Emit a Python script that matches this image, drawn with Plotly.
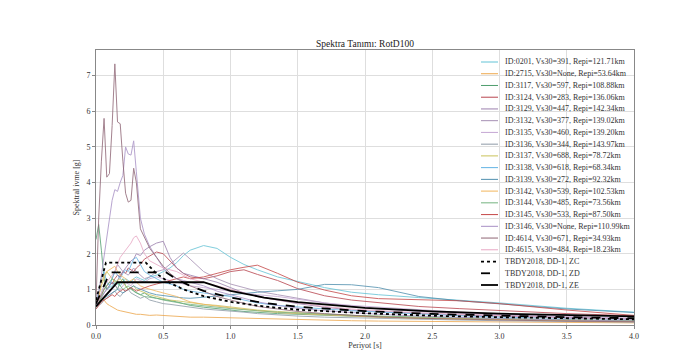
import plotly.graph_objects as go

# ---------------- data ----------------
periods = [0.0, 0.02, 0.04, 0.06, 0.08, 0.1, 0.12, 0.14, 0.16, 0.18,
           0.2, 0.22, 0.24, 0.26, 0.28, 0.3, 0.33, 0.36, 0.4, 0.45,
           0.5, 0.55, 0.6, 0.65, 0.7, 0.8, 0.9, 1.0, 1.1, 1.2,
           1.35, 1.5, 1.7, 1.9, 2.1, 2.4, 2.7, 3.0, 3.5, 4.0]

record_labels = [
    "ID:0201, Vs30=391, Repi=121.71km",
    "ID:2715, Vs30=None, Repi=53.64km",
    "ID:3117, Vs30=597, Repi=108.88km",
    "ID:3124, Vs30=283, Repi=136.06km",
    "ID:3129, Vs30=447, Repi=142.34km",
    "ID:3132, Vs30=377, Repi=139.02km",
    "ID:3135, Vs30=460, Repi=139.20km",
    "ID:3136, Vs30=344, Repi=143.97km",
    "ID:3137, Vs30=688, Repi=78.72km",
    "ID:3138, Vs30=618, Repi=68.34km",
    "ID:3139, Vs30=272, Repi=92.32km",
    "ID:3142, Vs30=539, Repi=102.53km",
    "ID:3144, Vs30=485, Repi=73.56km",
    "ID:3145, Vs30=533, Repi=87.50km",
    "ID:3146, Vs30=None, Repi=110.99km",
    "ID:4614, Vs30=671, Repi=34.93km",
    "ID:4615, Vs30=484, Repi=18.23km",
]

sa_0201 = [0.55, 0.7, 0.9, 1.1, 1.0, 1.05, 1.1, 1.2, 1.15, 1.1, 1.2, 1.3, 1.25, 1.2, 1.3, 1.35, 1.3, 1.25, 1.35, 1.4,
           1.5, 1.6, 1.75, 1.95, 2.1, 2.23, 2.15, 1.9, 1.7, 1.55, 1.35, 1.22, 1.05, 0.92, 0.85, 0.77, 0.7, 0.62, 0.47, 0.36]
sa_2715 = [0.5, 0.65, 0.78, 0.7, 0.6, 0.55, 0.5, 0.45, 0.42, 0.4, 0.38, 0.36, 0.35, 0.33, 0.32, 0.3, 0.3, 0.28, 0.27, 0.28,
           0.27, 0.25, 0.24, 0.22, 0.22, 0.22, 0.21, 0.2, 0.19, 0.18, 0.16, 0.15, 0.13, 0.12, 0.11, 0.1, 0.09, 0.08, 0.07, 0.06]
sa_3117 = [2.4, 2.82, 2.1, 1.3, 1.0, 1.1, 1.2, 1.15, 1.0, 1.2, 1.3, 1.1, 1.0, 1.05, 0.95, 0.9, 0.85, 0.9, 0.8, 0.75,
           0.72, 0.7, 0.65, 0.6, 0.55, 0.5, 0.45, 0.42, 0.38, 0.35, 0.32, 0.3, 0.27, 0.24, 0.22, 0.19, 0.17, 0.15, 0.12, 0.1]
sa_3124 = [0.6, 0.7, 0.85, 1.0, 1.1, 1.2, 1.15, 1.3, 1.4, 1.35, 1.5, 1.45, 1.6, 1.55, 1.5, 1.6, 1.7, 1.85, 1.95, 2.05,
           2.0, 1.8, 1.6, 1.45, 1.35, 1.3, 1.38, 1.5, 1.55, 1.42, 1.25, 1.02, 0.82, 0.7, 0.62, 0.52, 0.46, 0.4, 0.32, 0.26]
sa_3129 = [0.5, 0.6, 0.75, 0.9, 1.0, 1.1, 1.2, 1.1, 1.25, 1.4, 1.5, 1.6, 1.7, 1.8, 1.85, 2.0, 1.95, 2.1, 2.2, 2.3,
           2.35, 1.9, 1.6, 1.45, 1.4, 1.3, 1.2, 1.05, 0.9, 0.8, 0.7, 0.6, 0.5, 0.42, 0.38, 0.32, 0.28, 0.25, 0.2, 0.16]
sa_3132 = [0.55, 0.65, 0.8, 0.9, 1.0, 1.1, 1.3, 1.5, 1.7, 1.6, 1.5, 1.45, 1.4, 1.5, 1.6, 1.5, 1.4, 1.3, 1.35, 1.5,
           1.55, 1.7, 1.85, 2.02, 1.85, 1.5, 1.3, 1.15, 1.05, 0.95, 0.85, 0.75, 0.62, 0.52, 0.45, 0.38, 0.33, 0.28, 0.22, 0.18]
sa_3135 = [0.5, 0.6, 0.7, 0.8, 0.85, 0.9, 1.0, 1.1, 1.05, 1.0, 1.1, 1.2, 1.15, 1.1, 1.2, 1.3, 1.25, 1.2, 1.3, 1.35,
           1.3, 1.25, 1.2, 1.15, 1.1, 1.05, 1.0, 0.95, 0.9, 0.85, 0.8, 0.72, 0.62, 0.55, 0.5, 0.42, 0.36, 0.3, 0.24, 0.19]
sa_3136 = [0.45, 0.55, 0.6, 0.7, 0.75, 0.8, 0.9, 0.95, 0.85, 0.8, 0.9, 0.95, 1.0, 0.9, 0.85, 0.8, 0.75, 0.8, 0.7, 0.65,
           0.6, 0.58, 0.55, 0.52, 0.5, 0.45, 0.42, 0.4, 0.36, 0.32, 0.28, 0.25, 0.22, 0.2, 0.18, 0.16, 0.14, 0.12, 0.1, 0.08]
sa_3137 = [0.6, 0.8, 1.1, 1.3, 1.5, 1.4, 1.3, 1.2, 1.25, 1.3, 1.2, 1.1, 1.0, 1.05, 1.1, 1.0, 0.95, 0.9, 0.85, 0.8,
           0.75, 0.7, 0.68, 0.65, 0.62, 0.58, 0.55, 0.5, 0.46, 0.42, 0.38, 0.34, 0.3, 0.27, 0.24, 0.21, 0.18, 0.16, 0.13, 0.11]
sa_3138 = [0.7, 0.9, 1.3, 1.5, 1.2, 1.1, 1.3, 1.5, 1.4, 1.3, 1.45, 1.55, 1.5, 1.7, 1.85, 1.9, 1.7, 1.5, 1.4, 1.3,
           1.2, 1.15, 1.1, 1.0, 0.95, 0.9, 0.85, 0.8, 0.7, 0.62, 0.55, 0.5, 0.45, 0.4, 0.36, 0.3, 0.26, 0.22, 0.18, 0.15]
sa_3139 = [0.5, 0.6, 0.7, 0.75, 0.8, 0.85, 0.9, 0.95, 1.0, 0.95, 0.9, 0.95, 1.0, 1.05, 1.1, 1.05, 1.0, 0.95, 0.9, 0.85,
           0.82, 0.8, 0.78, 0.76, 0.75, 0.78, 0.82, 0.85, 0.88, 0.92, 0.96, 1.0, 1.14, 1.13, 1.05, 0.8, 0.68, 0.6, 0.45, 0.35]
sa_3142 = [0.6, 0.8, 1.2, 1.4, 1.5, 1.55, 1.6, 1.65, 1.5, 1.4, 1.35, 1.3, 1.2, 1.25, 1.3, 1.2, 1.1, 1.05, 1.0, 0.95,
           0.9, 0.85, 0.8, 0.72, 0.65, 0.58, 0.52, 0.48, 0.44, 0.4, 0.35, 0.32, 0.28, 0.25, 0.22, 0.19, 0.17, 0.15, 0.12, 0.1]
sa_3144 = [0.5, 0.6, 0.8, 1.0, 1.1, 1.2, 1.3, 1.25, 1.2, 1.1, 1.0, 1.05, 1.1, 1.0, 0.95, 0.9, 0.85, 0.8, 0.78, 0.75,
           0.7, 0.66, 0.62, 0.6, 0.58, 0.55, 0.5, 0.46, 0.42, 0.4, 0.36, 0.33, 0.3, 0.27, 0.25, 0.22, 0.2, 0.18, 0.15, 0.12]
sa_3145 = [0.45, 0.55, 0.65, 0.7, 0.75, 0.8, 0.85, 0.8, 0.9, 0.95, 1.0, 0.95, 1.0, 1.05, 1.0, 0.95, 1.0, 1.05, 1.1, 1.15,
           1.2, 1.25, 1.3, 1.35, 1.3, 1.35, 1.45, 1.55, 1.62, 1.68, 1.45, 1.2, 0.98, 0.82, 0.74, 0.7, 0.68, 0.6, 0.42, 0.27]
sa_3146 = [0.55, 0.9, 1.4, 1.9, 2.4, 2.9, 3.5, 3.8, 3.75, 4.0, 4.2, 5.0, 4.8, 4.77, 5.17, 4.3, 3.0, 2.55, 2.2, 1.9,
           1.6, 1.4, 1.3, 1.25, 1.2, 1.1, 0.95, 0.85, 0.75, 0.65, 0.55, 0.47, 0.4, 0.34, 0.3, 0.25, 0.21, 0.18, 0.14, 0.11]
sa_4614 = [0.62, 3.0, 4.6, 5.8, 4.15, 4.25, 5.6, 7.33, 5.7, 5.65, 4.6, 3.7, 3.45, 3.5, 4.4, 4.0, 2.7, 2.45, 2.15, 1.9,
           1.65, 1.45, 1.3, 1.2, 1.1, 0.95, 0.8, 0.7, 0.6, 0.52, 0.45, 0.38, 0.32, 0.27, 0.23, 0.19, 0.16, 0.14, 0.11, 0.09]
sa_4615 = [0.6, 0.7, 0.9, 1.1, 1.2, 1.3, 1.4, 1.5, 1.7, 1.9, 2.0, 2.1, 2.2, 2.3, 2.45, 2.5, 2.3, 2.0, 1.8, 1.7,
           1.6, 1.55, 1.5, 1.4, 1.3, 1.2, 1.1, 1.0, 0.9, 0.8, 0.7, 0.62, 0.52, 0.45, 0.4, 0.34, 0.3, 0.26, 0.2, 0.16]

record_values = [sa_0201, sa_2715, sa_3117, sa_3124, sa_3129, sa_3132, sa_3135, sa_3136, sa_3137,
                 sa_3138, sa_3139, sa_3142, sa_3144, sa_3145, sa_3146, sa_4614, sa_4615]

record_colors = ["#63c3d6", "#eda64a", "#4f9e6e", "#b8444e", "#9b7fae", "#a58fb3", "#c4a6d3", "#8d9aa6",
                 "#c9c25a", "#62b3e4", "#4f8fae", "#f2b55c", "#74b47f", "#c54747", "#a78fc5", "#8e6474", "#e8a6c4"]

# TBDY2018 design spectra
zc_T = [0.0, 0.074, 0.37, 0.45, 0.55, 0.65, 0.8, 1.0, 1.25, 1.5, 2.0, 2.5, 3.0, 3.5, 4.0]
zc_Sa = [0.70, 1.75, 1.75, 1.44, 1.18, 1.00, 0.81, 0.65, 0.52, 0.43, 0.33, 0.26, 0.22, 0.19, 0.16]
zd_T = [0.0, 0.104, 0.52, 0.6, 0.7, 0.8, 1.0, 1.25, 1.5, 2.0, 2.5, 3.0, 3.5, 4.0]
zd_Sa = [0.60, 1.48, 1.48, 1.28, 1.10, 0.96, 0.77, 0.62, 0.51, 0.39, 0.31, 0.26, 0.22, 0.19]
ze_T = [0.0, 0.16, 0.8, 1.0, 1.25, 1.5, 2.0, 2.5, 3.0, 3.5, 4.0]
ze_Sa = [0.52, 1.2, 1.2, 0.96, 0.77, 0.64, 0.48, 0.38, 0.32, 0.27, 0.24]
design_labels = ["TBDY2018, DD-1, ZC", "TBDY2018, DD-1, ZD", "TBDY2018, DD-1, ZE"]
design_dashes = ["dot", "dash", "solid"]

x_ticks = [0.0, 0.5, 1.0, 1.5, 2.0, 2.5, 3.0, 3.5, 4.0]
y_ticks = [0, 1, 2, 3, 4, 5, 6, 7]

# ---------------- figure ----------------
FONT = "Liberation Serif"
W, H = 696, 356
L, R, T, B = 88, 70, 42, 39
pw, ph = W - L - R, H - T - B

fig = go.Figure()
for lab, vals, col in zip(record_labels, record_values, record_colors):
    fig.add_trace(go.Scatter(x=periods, y=vals, mode="lines", name=lab,
                             line=dict(color=col, width=1), opacity=0.8, showlegend=False))

for lab, xs, ys, dsh in zip(design_labels, [zc_T, zd_T, ze_T], [zc_Sa, zd_Sa, ze_Sa], design_dashes):
    fig.add_trace(go.Scatter(x=xs, y=ys, mode="lines", name=lab,
                             line=dict(color="black", width=1.8, dash=dsh), showlegend=False))

# manual legend (compact, like the reference)
shapes, annotations = [], []
all_labels = record_labels + design_labels
all_colors = record_colors + ["black"] * 3
all_dash = ["solid"] * len(record_labels) + design_dashes
all_w = [1] * len(record_labels) + [1.8] * 3
y0pix, step = 54, (277 - 54) / 19
for i, (lab, col, dsh, lw) in enumerate(zip(all_labels, all_colors, all_dash, all_w)):
    ypix = y0pix + i * step
    yp = (H - B - ypix) / ph
    shapes.append(dict(type="line", xref="paper", yref="paper",
                       x0=(473 - L) / pw, x1=(490 - L) / pw, y0=yp, y1=yp,
                       line=dict(color=col, width=lw, dash=dsh)))
    annotations.append(dict(xref="paper", yref="paper", x=(495 - L) / pw, y=yp,
                            text=lab, showarrow=False, xanchor="left", yanchor="middle",
                            font=dict(family=FONT, size=8, color="#333")))

fig.update_layout(
    width=W, height=H,
    margin=dict(l=L, r=R, t=T, b=B, pad=0),
    paper_bgcolor="white", plot_bgcolor="white",
    font=dict(family=FONT, size=8, color="#333"),
    title=dict(text="Spektra Tanımı: RotD100", x=(L + pw / 2) / W, xanchor="center",
               y=1 - 36 / H, yanchor="middle", font=dict(family=FONT, size=9.5, color="#222")),
    shapes=shapes, annotations=annotations,
    showlegend=False,
)
fig.update_xaxes(range=[0, 4], tickvals=x_ticks, ticktext=[f"{v:.1f}" for v in x_ticks],
                 showgrid=True, gridcolor="#dedede", gridwidth=1,
                 showline=True, linecolor="#888", linewidth=1, mirror=True,
                 ticks="outside", ticklen=3, tickcolor="#888", zeroline=False,
                 tickfont=dict(family=FONT, size=8, color="#333"),
                 title=dict(text="Periyot [s]", standoff=2, font=dict(family=FONT, size=8)))
fig.update_yaxes(range=[0, 7.72], tickvals=y_ticks,
                 showgrid=True, gridcolor="#dedede", gridwidth=1,
                 showline=True, linecolor="#888", linewidth=1, mirror=True,
                 ticks="outside", ticklen=3, tickcolor="#888", zeroline=False,
                 tickfont=dict(family=FONT, size=8, color="#333"),
                 title=dict(text="Spektral ivme [g]", standoff=5, font=dict(family=FONT, size=8)))

fig.write_html("out.html")
